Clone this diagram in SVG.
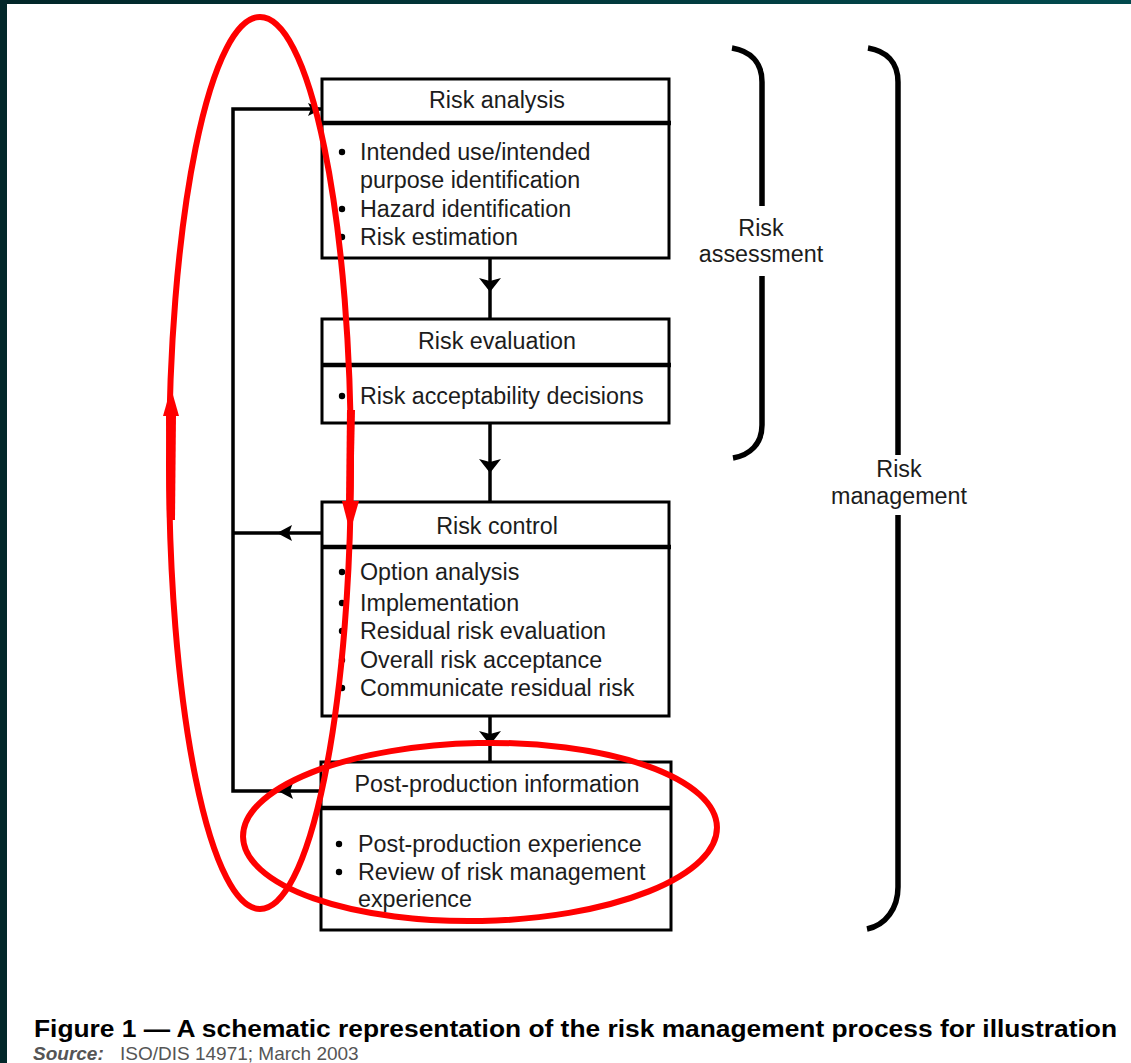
<svg xmlns="http://www.w3.org/2000/svg" width="1131" height="1063" viewBox="0 0 1131 1063">
  <defs>
    <linearGradient id="frameTop" x1="0" y1="0" x2="1" y2="0">
      <stop offset="0" stop-color="#022628"/>
      <stop offset="1" stop-color="#024a4e"/>
    </linearGradient>
  </defs>
  <style>
    .box { fill: #fff; stroke: #000; stroke-width: 3; }
    .sep { stroke: #000; stroke-width: 4.5; }
    .title { font-family: "Liberation Sans", Arial, sans-serif; font-size: 23.3px; fill: #1c1c1c; text-anchor: middle; }
    .item { font-family: "Liberation Sans", Arial, sans-serif; font-size: 23.3px; fill: #1c1c1c; }
    .label { font-family: "Liberation Sans", Arial, sans-serif; font-size: 23.3px; fill: #1c1c1c; text-anchor: middle; }
    .dot { fill: #000; }
    .wire { fill: none; stroke: #000; stroke-width: 3.5; }
    .brace { fill: none; stroke: #000; stroke-width: 5.5; stroke-linecap: butt; }
    .head { fill: #000; }
    .mark { fill: none; stroke: #ff0000; stroke-width: 6; }
    .markfill { fill: #ff0000; }
  </style>

  <!-- page frame -->
  <rect x="0" y="0" width="1131" height="1063" fill="#fff"/>
  <rect x="0" y="0" width="1131" height="4" fill="url(#frameTop)"/>
  <rect x="0" y="0" width="7" height="1063" fill="#03282a"/>

  <!-- connectors -->
  <g id="connectors">
    <!-- feedback loop on the left -->
    <path class="wire" d="M322,109 H233 V791 H321"/>
    <path class="wire" d="M322,533 H233"/>
    <path class="head" d="M322,109 L308,103 L311,109 L308,116 Z"/>
    <path class="head" d="M277,533 L292,525 L289,533 L292,541 Z"/>
    <path class="head" d="M278,791 L293,783 L290,791 L293,799 Z"/>
    <!-- main downward flow -->
    <line class="wire" x1="490" y1="258" x2="490" y2="320"/>
    <path class="head" d="M479,278 L490,281 L501,278 L490,292 Z"/>
    <line class="wire" x1="490" y1="423" x2="490" y2="503"/>
    <path class="head" d="M479,459 L490,462 L501,459 L490,473 Z"/>
    <line class="wire" x1="490" y1="716" x2="490" y2="763"/>
    <path class="head" d="M479,731 L490,734 L501,731 L490,745 Z"/>
  </g>

  <!-- Risk analysis -->
  <g id="risk-analysis">
    <rect class="box" x="322" y="79" width="347" height="179"/>
    <line class="sep" x1="322" y1="123" x2="671" y2="123"/>
    <text class="title" x="497" y="108">Risk analysis</text>
    <circle class="dot" cx="342" cy="152" r="3.2"/>
    <text class="item" x="360" y="160">Intended use/intended</text>
    <text class="item" x="360" y="188">purpose identification</text>
    <circle class="dot" cx="342" cy="209" r="3.2"/>
    <text class="item" x="360" y="217">Hazard identification</text>
    <circle class="dot" cx="342" cy="237" r="3.2"/>
    <text class="item" x="360" y="245">Risk estimation</text>
  </g>

  <!-- Risk evaluation -->
  <g id="risk-evaluation">
    <rect class="box" x="322" y="319" width="347" height="104"/>
    <line class="sep" x1="322" y1="365" x2="671" y2="365"/>
    <text class="title" x="497" y="349">Risk evaluation</text>
    <circle class="dot" cx="342" cy="396" r="3.2"/>
    <text class="item" x="360" y="404">Risk acceptability decisions</text>
  </g>

  <!-- Risk control -->
  <g id="risk-control">
    <rect class="box" x="322" y="502" width="347" height="214"/>
    <line class="sep" x1="322" y1="547" x2="671" y2="547"/>
    <text class="title" x="497" y="534">Risk control</text>
    <circle class="dot" cx="342" cy="572" r="3.2"/>
    <text class="item" x="360" y="580">Option analysis</text>
    <circle class="dot" cx="342" cy="603" r="3.2"/>
    <text class="item" x="360" y="611">Implementation</text>
    <circle class="dot" cx="342" cy="631" r="3.2"/>
    <text class="item" x="360" y="639">Residual risk evaluation</text>
    <circle class="dot" cx="342" cy="660" r="3.2"/>
    <text class="item" x="360" y="668">Overall risk acceptance</text>
    <circle class="dot" cx="342" cy="688" r="3.2"/>
    <text class="item" x="360" y="696">Communicate residual risk</text>
  </g>

  <!-- Post-production information -->
  <g id="post-production">
    <rect class="box" x="321" y="762" width="350" height="168"/>
    <line class="sep" x1="321" y1="808" x2="671" y2="808"/>
    <text class="title" x="497" y="792">Post-production information</text>
    <circle class="dot" cx="339" cy="844" r="3.2"/>
    <text class="item" x="358" y="852">Post-production experience</text>
    <circle class="dot" cx="339" cy="872" r="3.2"/>
    <text class="item" x="358" y="880">Review of risk management</text>
    <text class="item" x="358" y="907">experience</text>
  </g>

  <!-- Risk assessment brace -->
  <g id="risk-assessment">
    <path class="brace" d="M732,48 C750,51 762,62 762,82 V206"/>
    <path class="brace" d="M762,276 V425 C762,444 750,455 733,458"/>
    <text class="label" x="761" y="236">Risk</text>
    <text class="label" x="761" y="262">assessment</text>
  </g>

  <!-- Risk management brace -->
  <g id="risk-management">
    <path class="brace" d="M868,48 C886,51 898,62 898,82 V455"/>
    <path class="brace" d="M898,515 V887 C898,908 886,925 867,929"/>
    <text class="label" x="899" y="477">Risk</text>
    <text class="label" x="899" y="504">management</text>
  </g>

  <!-- red hand-drawn emphasis -->
  <g id="emphasis">
    <ellipse class="mark" cx="260" cy="463" rx="91" ry="446"/>
    <!-- upward arrow on the left strand -->
    <path class="markfill" d="M166,415 L176,415 L175,520 L167,520 Z"/>
    <path class="markfill" d="M171,388 L179,416 L163,416 Z"/>
    <!-- downward arrow on the right strand -->
    <path class="markfill" d="M347,410 L355,410 L353,502 L346,502 Z"/>
    <path class="markfill" d="M342,501 L359,501 L350,532 Z"/>
    <ellipse class="mark" cx="480" cy="832" rx="237" ry="89" transform="rotate(-1.2 480 832)"/>
  </g>

  <!-- caption -->
  <g id="caption">
    <text x="34" y="1037" font-family="Liberation Sans, Arial, sans-serif" font-size="23" font-weight="bold" fill="#000" textLength="1083" lengthAdjust="spacingAndGlyphs">Figure 1 — A schematic representation of the risk management process for illustration</text>
    <text x="33" y="1060" font-family="Liberation Sans, Arial, sans-serif" font-size="19" font-weight="bold" font-style="italic" fill="#555">Source:</text>
    <text x="120" y="1060" font-family="Liberation Sans, Arial, sans-serif" font-size="19" fill="#555">ISO/DIS 14971; March 2003</text>
  </g>
</svg>
